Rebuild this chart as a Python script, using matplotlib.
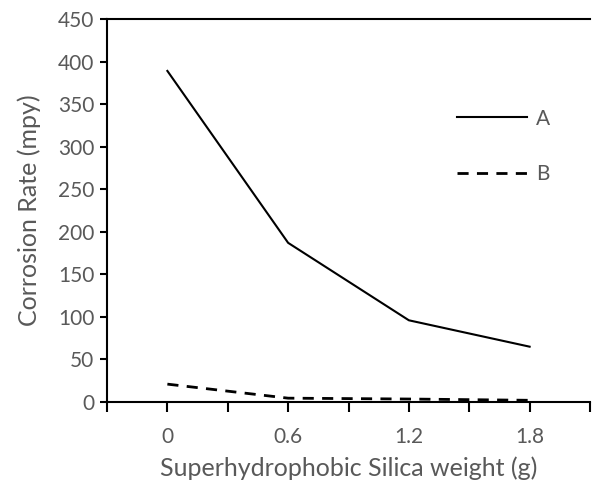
import matplotlib
matplotlib.use("Agg")
import matplotlib.pyplot as plt

weights = [0, 0.6, 1.2, 1.8]
rate_a = [389, 187, 96, 65]
rate_b = [21, 4.5, 3.5, 2]
tick_labels = ["0", "0.6", "1.2", "1.8"]

grey = "#595959"
plt.rcParams["font.family"] = ["Lato", "DejaVu Sans"]

fig = plt.figure(figsize=(5.95, 4.83), dpi=100)
ax = fig.add_axes([107 / 595, 1 - 402 / 483, (590 - 107) / 595, (402 - 19) / 483])

ax.plot(weights, rate_a, color="black", lw=1.5, label="A")
ax.plot(weights, rate_b, color="black", lw=2, ls=(0, (4, 3)), label="B")

ax.set_xlim(-0.3, 2.1)
ax.set_ylim(0, 450)
ax.set_yticks(range(0, 451, 50))
ax.set_xticks([-0.3 + 0.3 * i for i in range(9)])
ax.set_xticklabels(["", tick_labels[0], "", tick_labels[1], "", tick_labels[2], "", tick_labels[3], ""])

for s in ["left", "bottom", "top"]:
    ax.spines[s].set_linewidth(1.5)
ax.spines["right"].set_visible(False)
ax.tick_params(axis="x", direction="out", length=7, width=1.5, colors="black",
               labelcolor=grey, labelsize=15, pad=11)
ax.tick_params(axis="y", direction="out", length=5, width=1.5, colors="black",
               labelcolor=grey, labelsize=15, pad=4)

ax.set_xlabel("Superhydrophobic Silica weight (g)", color=grey, fontsize=18, labelpad=7)
ax.set_ylabel("Corrosion Rate (mpy)", color=grey, fontsize=18, labelpad=12)

leg = ax.legend(loc="upper left", bbox_to_anchor=(0.685, 0.815), frameon=False,
                fontsize=15, handlelength=3.4, labelspacing=1.7, handletextpad=0.4)
for t in leg.get_texts():
    t.set_color(grey)

fig.savefig("out.png", dpi=100)
